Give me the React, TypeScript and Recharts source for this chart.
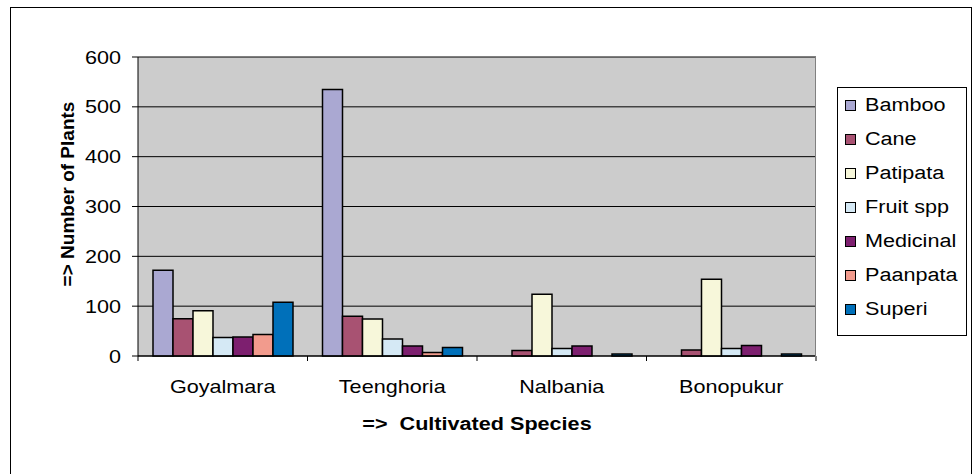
import React from 'react';
import { BarChart, Bar, XAxis, YAxis, CartesianGrid, Legend } from 'recharts';

const categories = ['Goyalmara', 'Teenghoria', 'Nalbania', 'Bonopukur'];
const bamboo = [172, 535, 0, 0];
const cane = [75, 80, 11, 12];
const patipata = [91, 74, 124, 154];
const fruitSpp = [37, 34, 15, 15];
const medicinal = [38, 20, 20, 21];
const paanpata = [43, 7, 0, 0];
const superi = [108, 17, 4, 4];
const yTicks = [0, 100, 200, 300, 400, 500, 600];

const series = [
  { key: 'Bamboo', values: bamboo, color: '#AAA8D2' },
  { key: 'Cane', values: cane, color: '#A85272' },
  { key: 'Patipata', values: patipata, color: '#F7F7DA' },
  { key: 'Fruit spp', values: fruitSpp, color: '#D5E9F5' },
  { key: 'Medicinal', values: medicinal, color: '#7D1F6F' },
  { key: 'Paanpata', values: paanpata, color: '#F29B8D' },
  { key: 'Superi', values: superi, color: '#0070BA' },
];

const data = categories.map((c, i) => {
  const row: any = { name: c };
  series.forEach((s) => { row[s.key] = s.values[i]; });
  return row;
});

const FONT = '"Liberation Sans", Arial, sans-serif';
const HALF_BAND = 84.75;
const STRETCH = 1.2;

const XTick = (props: any) => {
  const { x, y, payload, index } = props;
  const axisY = y - 8;
  return (
    <g>
      <line x1={x - HALF_BAND} y1={axisY} x2={x - HALF_BAND} y2={axisY + 5} stroke="#000" strokeWidth={1} />
      {index === categories.length - 1 && (
        <line x1={x + HALF_BAND} y1={axisY} x2={x + HALF_BAND} y2={axisY + 5} stroke="#000" strokeWidth={1} />
      )}
      <text
        transform={`translate(${x},${axisY + 37}) scale(${STRETCH},1)`}
        x={0}
        y={0}
        textAnchor="middle"
        fontSize={18}
        fontFamily={FONT}
        fill="#000"
      >
        {payload.value}
      </text>
    </g>
  );
};

const YTick = (props: any) => {
  const { x, y, payload } = props;
  return (
    <text
      transform={`translate(${x},${y + 6.5}) scale(${STRETCH},1)`}
      x={0}
      y={0}
      textAnchor="end"
      fontSize={18}
      fontFamily={FONT}
      fill="#000"
    >
      {payload.value}
    </text>
  );
};

const LegendBox = () => (
  <div
    style={{
      width: 130,
      height: 249,
      border: '1px solid #000',
      background: '#fff',
      fontFamily: FONT,
      fontSize: 18,
      boxSizing: 'border-box',
      paddingTop: 0,
    }}
  >
    {series.map((s) => (
      <div key={s.key} style={{ display: 'flex', alignItems: 'center', height: 34, paddingLeft: 7, whiteSpace: 'nowrap' }}>
        <span
          style={{
            display: 'inline-block',
            width: 9,
            height: 9,
            background: s.color,
            border: '1px solid #000',
            marginRight: 9,
            flex: 'none',
          }}
        />
        <span
          style={{
            display: 'inline-block',
            color: '#000',
            transform: `scaleX(${STRETCH})`,
            transformOrigin: 'left center',
          }}
        >
          {s.key}
        </span>
      </div>
    ))}
  </div>
);

export default function App() {
  return (
    <div style={{ position: 'absolute', left: 0, top: 0, width: 974, height: 474, overflow: 'hidden', background: '#fff' }}>
      <div
        style={{
          position: 'absolute',
          left: 10,
          top: 7,
          width: 962,
          height: 480,
          border: '1px solid #000',
          boxSizing: 'border-box',
        }}
      />
      <div style={{ position: 'absolute', left: 0, top: 0 }}>
        <BarChart
          width={974}
          height={474}
          data={data}
          margin={{ top: 57, right: 158, bottom: 88, left: 78 }}
          barGap={0}
          barSize={20}
        >
          <CartesianGrid vertical={false} stroke="#000" fill="#CCCCCC" strokeWidth={1} />
          <XAxis
            dataKey="name"
            height={30}
            axisLine={{ stroke: '#000' }}
            tickLine={false}
            tick={<XTick />}
            interval={0}
          />
          <YAxis
            width={60}
            domain={[0, 600]}
            ticks={yTicks}
            interval={0}
            axisLine={{ stroke: '#000' }}
            tickLine={{ stroke: '#000' }}
            tickSize={6}
            tickMargin={11}
            tick={<YTick />}
          />
          <Legend
            layout="vertical"
            align="center"
            verticalAlign="middle"
            content={<LegendBox />}
            wrapperStyle={{ left: 837, top: 87, width: 130, height: 249 }}
          />
          {series.map((s) => (
            <Bar
              key={s.key}
              dataKey={s.key}
              name={s.key}
              fill={s.color}
              stroke="#000"
              strokeWidth={1.5}
              isAnimationActive={false}
            />
          ))}
        </BarChart>
      </div>
      <div
        style={{
          position: 'absolute',
          left: 815,
          top: 57,
          width: 1,
          height: 304,
          background: '#808080',
        }}
      />
      <div
        style={{
          position: 'absolute',
          left: 277,
          top: 414,
          width: 400,
          textAlign: 'center',
          fontFamily: FONT,
          fontWeight: 'bold',
          fontSize: 18,
          whiteSpace: 'pre',
          color: '#000',
          transform: `scaleX(${STRETCH})`,
          transformOrigin: '200px 50%',
        }}
      >
        {'=>  Cultivated Species'}
      </div>
      <div
        style={{
          position: 'absolute',
          left: 68 - 150,
          top: 194 - 11,
          width: 300,
          height: 22,
          lineHeight: '22px',
          textAlign: 'center',
          fontFamily: FONT,
          fontWeight: 'bold',
          fontSize: 19,
          transform: 'rotate(-90deg)',
          color: '#000',
        }}
      >
        {'=> Number of Plants'}
      </div>
    </div>
  );
}
